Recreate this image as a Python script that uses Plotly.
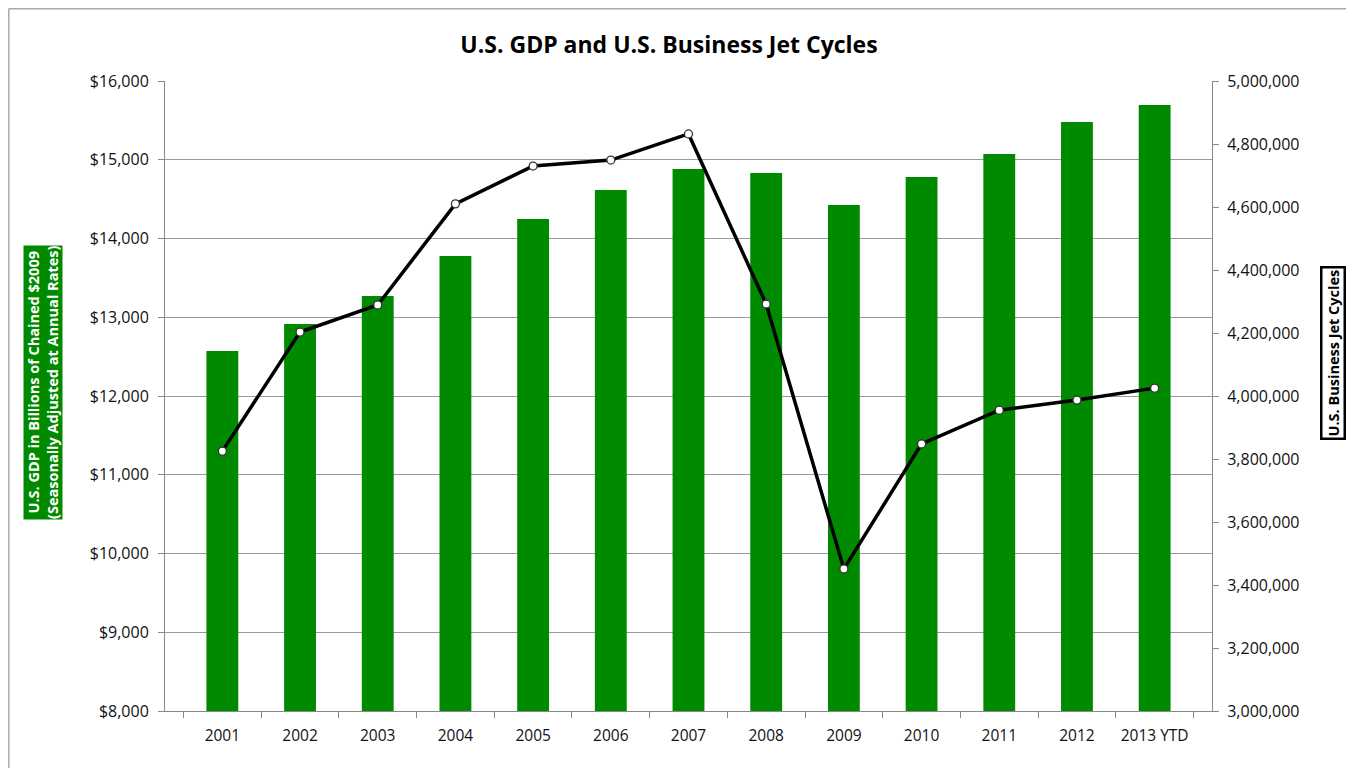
import plotly.graph_objects as go

years = ["2001", "2002", "2003", "2004", "2005", "2006", "2007", "2008", "2009", "2010", "2011", "2012", "2013 YTD"]
gdp = [12570, 12914, 13270, 13778, 14248, 14616, 14883, 14832, 14425, 14781, 15073, 15479, 15695]
jet_cycles = [3825000, 4203000, 4289000, 4610000, 4730000, 4749000, 4832000, 4292000, 3451000, 3848000, 3955000, 3987000, 4025000]

left_ticks = list(range(8000, 16001, 1000))
left_labels = ["${:,}".format(v) for v in left_ticks]
right_ticks = list(range(3000000, 5000001, 200000))
right_labels = ["{:,}".format(v) for v in right_ticks]

FONT = "'Open Sans', Lato, sans-serif"

# figure geometry (page body adds an 8px margin)
W, H = 1338, 760
L, R, T, B = 157, 134, 73, 57
PW, PH = W - L - R, H - T - B


def px(xf):
    return (xf - L) / PW


def py(yf):
    return (H - B - yf) / PH


fig = go.Figure()
fig.add_trace(go.Bar(x=years, y=gdp, marker=dict(color="#008A00", line=dict(width=0)),
                     yaxis="y", name="GDP"))
fig.add_trace(go.Scatter(x=years, y=jet_cycles, yaxis="y2", mode="lines+markers",
                         line=dict(color="black", width=3.5),
                         marker=dict(size=8, color="white", line=dict(color="#333333", width=1.3)),
                         name="Jet Cycles"))

fig.update_layout(
    width=W, height=H,
    margin=dict(l=L, r=R, t=T, b=B),
    paper_bgcolor="white", plot_bgcolor="white",
    showlegend=False,
    bargap=0.59,
    font=dict(family=FONT, size=15.5, color="#111111"),
    title=dict(text="<b>U.S. GDP and U.S. Business Jet Cycles</b>", x=661 / W, xanchor="center",
               y=1 - 37 / H, yanchor="middle", font=dict(size=23, color="black", family=FONT)),
    xaxis=dict(type="category", showline=True, linecolor="#888888", linewidth=1,
               ticks="outside", tickson="boundaries", ticklen=6, tickcolor="#888888",
               showgrid=False, tickfont=dict(size=15.5), ticklabelstandoff=10),
    yaxis=dict(range=[8000, 16000], tickvals=left_ticks, ticktext=left_labels,
               showline=True, linecolor="#888888", linewidth=1,
               ticks="outside", ticklen=6, tickcolor="#888888", ticklabelstandoff=6,
               showgrid=True, gridcolor="#9a9a9a", gridwidth=1, zeroline=False,
               tickfont=dict(size=16)),
    yaxis2=dict(range=[3000000, 5000000], tickvals=right_ticks, ticktext=right_labels,
                overlaying="y", side="right", showline=True, linecolor="#888888", linewidth=1,
                ticks="outside", ticklen=6, tickcolor="#888888", ticklabelstandoff=5,
                showgrid=False, zeroline=False,
                tickfont=dict(size=16)),
)

# outer border (left and top edges visible in reference)
fig.add_shape(type="line", xref="paper", yref="paper", x0=px(0.8), x1=px(0.8), y0=py(H), y1=py(0.8),
              line=dict(color="#aaaaaa", width=1.5), layer="below")
fig.add_shape(type="line", xref="paper", yref="paper", x0=px(0.8), x1=px(W), y0=py(0.8), y1=py(0.8),
              line=dict(color="#aaaaaa", width=1.5), layer="below")

# left axis title (green box)
fig.add_annotation(xref="paper", yref="paper", x=px(35), y=py(375),
                   text="<b>U.S. GDP in Billions of Chained $2009<br>(Seasonally Adjusted at Annual Rates)</b>",
                   textangle=-90, showarrow=False, font=dict(size=14.5, color="white", family=FONT),
                   bgcolor="#008A00", borderpad=0, xanchor="center", yanchor="middle")

# right axis title (bordered box)
fig.add_annotation(xref="paper", yref="paper", x=px(1325), y=py(345),
                   text="<b>U.S. Business Jet Cycles</b>",
                   textangle=-90, showarrow=False, font=dict(size=14.5, color="black", family=FONT),
                   bgcolor="white", bordercolor="black", borderwidth=2.5, borderpad=1,
                   xanchor="center", yanchor="middle")

fig.write_html("out.html")
